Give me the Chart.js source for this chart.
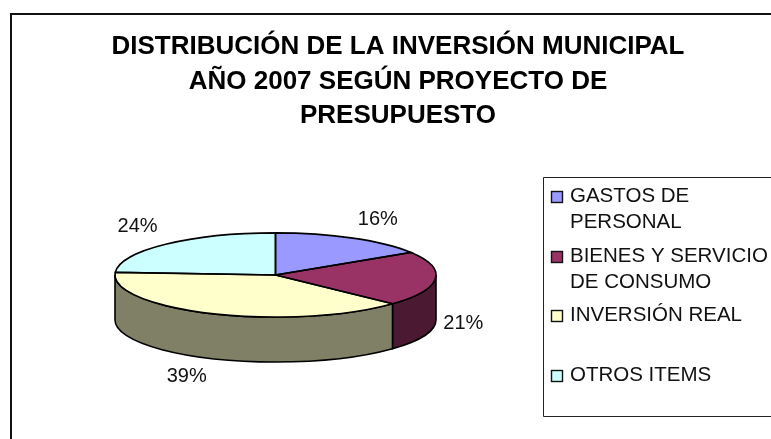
<!DOCTYPE html>
<html>
<head>
<meta charset="utf-8">
<style>
  html, body { margin: 0; padding: 0; background: #fff; overflow: hidden; }
  canvas { display: block; }
</style>
<script src="https://cdn.jsdelivr.net/npm/chart.js@4/dist/chart.umd.min.js"></script>
</head>
<body>
<canvas id="pieChart" width="771" height="439"></canvas>
<script>
const titleLines = ["DISTRIBUCIÓN DE LA INVERSIÓN MUNICIPAL", "AÑO 2007 SEGÚN PROYECTO DE", "PRESUPUESTO"];
const categories = [["GASTOS DE", "PERSONAL"], ["BIENES Y SERVICIO", "DE CONSUMO"], ["INVERSIÓN REAL"], ["OTROS ITEMS"]];
const shares = [16, 21, 39, 24];

const topColors = ["#9999FF", "#993366", "#FFFFCC", "#CCFFFF"];
const sideColors = ["#4C4C80", "#4C1933", "#808066", "#668080"];

// pie look: flattened disc with a wall under it
const squash = 0.262;
const wallDepth = 45;
const pieShiftX = -122.5; // chart area is centred under the title, the pie sits left of it
const labelNudge = [[25, -19], [28, 0], [-25, 18], [-28, -18]];

// legend box runs off the right edge like in the picture
const legendLeft = 543.5, legendTop = 177.5, legendBottom = 416.5;
const legendFirstBaseline = [202, 262, 321, 381];
const legendLineStep = 26;

function piePath(ctx, arc) {
  const cx = arc.x + pieShiftX, cy = arc.y, rx = arc.outerRadius, ry = rx * squash;
  ctx.beginPath();
  ctx.moveTo(cx, cy);
  ctx.ellipse(cx, cy, rx, ry, 0, arc.startAngle, arc.endAngle);
  ctx.closePath();
}

const flatPie = {
  id: "flatPie",
  beforeDraw(chart) {
    const ctx = chart.ctx;
    ctx.save();
    ctx.strokeStyle = "#111";
    ctx.lineWidth = 2;
    ctx.beginPath();
    ctx.moveTo(11, 439);
    ctx.lineTo(11, 14);
    ctx.lineTo(771, 14);
    ctx.stroke();
    ctx.restore();
  },
  beforeDatasetsDraw(chart) {
    const ctx = chart.ctx;
    const arcs = chart.getDatasetMeta(0).data;
    ctx.save();
    ctx.lineWidth = 1.6;
    ctx.strokeStyle = "#000";
    // front walls, only the part of each slice facing the viewer
    arcs.forEach((arc, i) => {
      const a0 = Math.max(arc.startAngle, 0), a1 = Math.min(arc.endAngle, Math.PI);
      if (a1 <= a0) return;
      const cx = arc.x + pieShiftX, cy = arc.y, rx = arc.outerRadius, ry = rx * squash;
      ctx.beginPath();
      ctx.ellipse(cx, cy, rx, ry, 0, a0, a1);
      ctx.ellipse(cx, cy + wallDepth, rx, ry, 0, a1, a0, true);
      ctx.closePath();
      ctx.fillStyle = sideColors[i];
      ctx.fill();
      ctx.stroke();
    });
    ctx.restore();

    const a = arcs[0];
    ctx.save();
    ctx.translate(a.x + pieShiftX, a.y);
    ctx.scale(1, squash);
    ctx.translate(-a.x, -a.y);
  },
  afterDatasetsDraw(chart) {
    const ctx = chart.ctx;
    ctx.restore();
    const arcs = chart.getDatasetMeta(0).data;
    const total = shares.reduce((s, v) => s + v, 0);

    ctx.save();
    ctx.lineWidth = 1.6;
    ctx.strokeStyle = "#000";
    arcs.forEach(arc => {
      piePath(ctx, arc);
      ctx.stroke();
    });

    ctx.fillStyle = "#111";
    ctx.font = '20px "Liberation Sans"';
    ctx.textAlign = "center";
    ctx.textBaseline = "middle";
    arcs.forEach((arc, i) => {
      const mid = (arc.startAngle + arc.endAngle) / 2;
      const front = Math.sin(mid) > 0;
      const x = arc.x + pieShiftX + Math.cos(mid) * arc.outerRadius + labelNudge[i][0];
      const y = arc.y + Math.sin(mid) * arc.outerRadius * squash + (front ? wallDepth : 0) + labelNudge[i][1];
      ctx.fillText(Math.round(shares[i] / total * 100) + "%", x, y);
    });
    ctx.restore();
  },
  afterDraw(chart) {
    const ctx = chart.ctx;
    ctx.save();
    ctx.strokeStyle = "#222";
    ctx.lineWidth = 1;
    ctx.beginPath();
    ctx.moveTo(771, legendTop);
    ctx.lineTo(legendLeft, legendTop);
    ctx.lineTo(legendLeft, legendBottom);
    ctx.lineTo(771, legendBottom);
    ctx.stroke();

    ctx.font = '20.5px "Liberation Sans"';
    ctx.textBaseline = "alphabetic";
    categories.forEach((lines, i) => {
      const base = legendFirstBaseline[i];
      ctx.fillStyle = topColors[i];
      ctx.strokeStyle = "#111";
      ctx.lineWidth = 1.4;
      ctx.fillRect(551.5, base - 10.5, 11, 11);
      ctx.strokeRect(551.5, base - 10.5, 11, 11);
      ctx.fillStyle = "#111";
      lines.forEach((line, j) => ctx.fillText(line, 570, base + j * legendLineStep));
    });
    ctx.restore();
  }
};

new Chart(document.getElementById("pieChart"), {
  type: "pie",
  data: {
    labels: categories.map(l => l.join(" ")),
    datasets: [{
      data: shares,
      backgroundColor: topColors,
      borderWidth: 0,
      clip: false
    }]
  },
  options: {
    responsive: false,
    animation: false,
    radius: 160.5,
    layout: { padding: { left: 25, right: 0, top: 0, bottom: 29 } },
    plugins: {
      legend: { display: false },
      tooltip: { enabled: false },
      title: {
        display: true,
        text: titleLines,
        color: "#000",
        font: { family: '"Liberation Sans"', size: 26, weight: "bold", lineHeight: 1.33 },
        padding: { top: 29.5, bottom: 6.7 }
      }
    }
  },
  plugins: [flatPie]
});
</script>
</body>
</html>
